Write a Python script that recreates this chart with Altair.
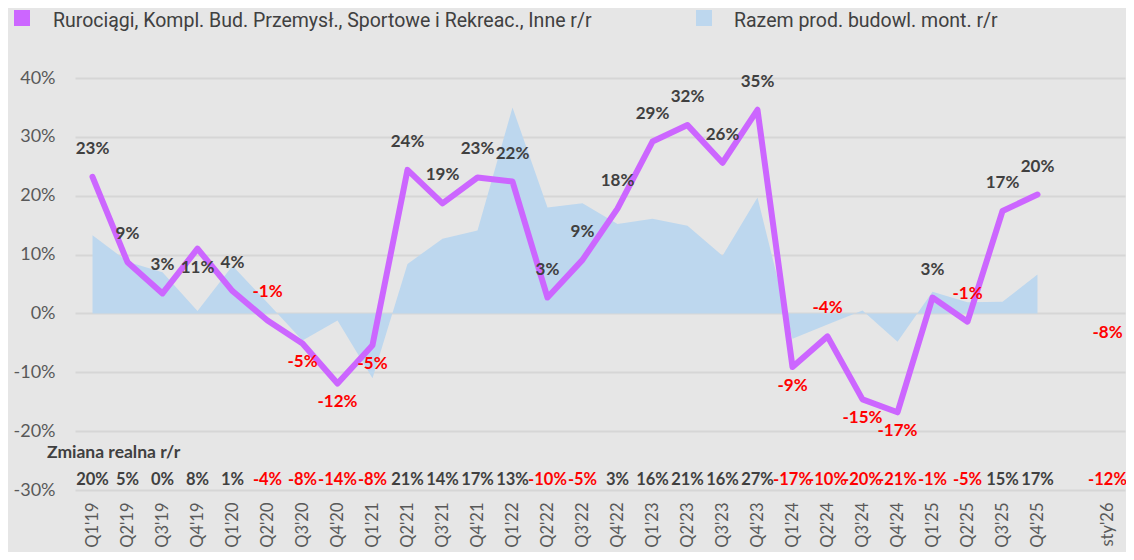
import altair as alt
import pandas as pd

categories = ["Q1'19", "Q2'19", "Q3'19", "Q4'19", "Q1'20", "Q2'20", "Q3'20", "Q4'20",
              "Q1'21", "Q2'21", "Q3'21", "Q4'21", "Q1'22", "Q2'22", "Q3'22", "Q4'22",
              "Q1'23", "Q2'23", "Q3'23", "Q4'23", "Q1'24", "Q2'24", "Q3'24", "Q4'24",
              "Q1'25", "Q2'25", "Q3'25", "Q4'25", " ", "sty'26"]

# Rurociągi ... r/r (line), percent
line_vals = [23.2, 8.7, 3.4, 11.0, 3.8, -1.2, -5.1, -11.9,
             -5.4, 24.4, 18.7, 23.1, 22.4, 2.7, 9.1, 17.8,
             29.2, 32.0, 25.6, 34.6, -9.1, -3.9, -14.6, -16.8,
             2.7, -1.4, 17.4, 20.2, None, -8.0]

# Razem prod. budowl. mont. r/r (area), percent
area_vals = [13.3, 8.8, 7.0, 0.4, 8.1, 1.8, -4.6, -1.2,
             -11.0, 8.4, 12.7, 14.1, 35.0, 18.0, 18.7, 15.2,
             16.1, 14.9, 9.8, 19.7, -4.3, -1.9, 0.5, -4.8,
             3.7, 1.9, 2.0, 6.6, None, None]

# Zmiana realna r/r (bottom row), percent
real_vals = [20, 5, 0, 8, 1, -4, -8, -14,
             -8, 21, 14, 17, 13, -10, -5, 3,
             16, 21, 16, 27, -17, -10, -20, -21,
             -1, -5, 15, 17, None, -12]

# data label placement (above / below the point)
label_side = ["above", "above", "above", "below", "above", "above", "below", "below",
              "below", "above", "above", "above", "above", "above", "above", "above",
              "above", "above", "above", "above", "below", "above", "below", "below",
              "above", "above", "above", "above", "above", "above"]

legend_names = ["Rurociągi, Kompl. Bud. Przemysł., Sportowe i Rekreac., Inne r/r",
                "Razem prod. budowl. mont. r/r"]
bottom_title = "Zmiana realna r/r"
y_ticks = [-30, -20, -10, 0, 10, 20, 30, 40]

PURPLE = "#CC66FF"
BLUE = "#BDD7EE"
DARK = "#404040"
RED = "#FF0000"
GRAY = "#595959"
FONT = "Lato"
LEG_FONT = "Roboto"

df = pd.DataFrame({
    "idx": list(range(len(categories))),
    "cat": categories,
    "line": line_vals,
    "area": area_vals,
    "real": real_vals,
    "side": label_side,
})

xenc = alt.X("cat:N", sort=categories,
             scale=alt.Scale(domain=categories),
             axis=alt.Axis(title=None, labelAngle=270, labelFontSize=16.5, labelColor=GRAY,
                           labelFont=FONT, labelPadding=12, ticks=False, domain=False,
                           grid=False, labelOverlap=False))
yscale = alt.Scale(domain=[-30, 40], nice=False, zero=False)
yaxis = alt.Axis(title=None, values=y_ticks, labelExpr="datum.value + '%'",
                 labelFontSize=18, labelColor=GRAY, labelFont=FONT, labelPadding=20,
                 ticks=False, domain=False, grid=True, gridColor="#D6D6D6", gridWidth=2)

base = alt.Chart(df).encode(x=xenc)

area = base.transform_filter("isValid(datum.area)").mark_area(color=BLUE, opacity=1).encode(
    y=alt.Y("area:Q", scale=yscale, axis=yaxis),
    y2=alt.datum(0),
)

line = base.transform_filter("isValid(datum.line) && datum.idx < 28").mark_line(
    color=PURPLE, strokeWidth=6, strokeJoin="round", strokeCap="round").encode(
    y=alt.Y("line:Q", scale=yscale, axis=yaxis),
)

label_color = alt.condition("datum.line < 0", alt.value(RED), alt.value(DARK))

labels_above = base.transform_filter("isValid(datum.line) && datum.side == 'above'").transform_calculate(
    lab="round(datum.line) + '%'").mark_text(
    dy=-28, fontSize=17, fontWeight="bold", font=FONT).encode(
    y=alt.Y("line:Q", scale=yscale, axis=yaxis),
    text="lab:N",
    color=label_color,
)

labels_below = base.transform_filter("isValid(datum.line) && datum.side == 'below'").transform_calculate(
    lab="round(datum.line) + '%'").mark_text(
    dy=19, fontSize=17, fontWeight="bold", font=FONT).encode(
    y=alt.Y("line:Q", scale=yscale, axis=yaxis),
    text="lab:N",
    color=label_color,
)

bottom_row = base.transform_filter("isValid(datum.real)").transform_calculate(
    lab="datum.real + '%'").mark_text(
    fontSize=16.5, fontWeight="bold", font=FONT).encode(
    y=alt.value(402),
    text="lab:N",
    color=alt.condition("datum.real < 0", alt.value(RED), alt.value(DARK)),
)

one = pd.DataFrame({"t": [bottom_title]})
bottom_title_mark = alt.Chart(one).mark_text(
    align="left", baseline="middle", fontSize=17.5, fontWeight="bold", font=FONT, color=DARK).encode(
    x=alt.value(-28), y=alt.value(375), text="t:N")

leg1 = pd.DataFrame({"t": [legend_names[0]]})
leg2 = pd.DataFrame({"t": [legend_names[1]]})
leg_sq1 = alt.Chart(leg1).mark_rect(color=PURPLE).encode(
    x=alt.value(-61), x2=alt.value(-45), y=alt.value(-68), y2=alt.value(-52))
leg_tx1 = alt.Chart(leg1).mark_text(align="left", baseline="alphabetic", fontSize=19.5,
                                    font=LEG_FONT, color=DARK).encode(
    x=alt.value(-22), y=alt.value(-51), text="t:N")
leg_sq2 = alt.Chart(leg2).mark_rect(color=BLUE).encode(
    x=alt.value(621), x2=alt.value(637), y=alt.value(-68), y2=alt.value(-52))
leg_tx2 = alt.Chart(leg2).mark_text(align="left", baseline="alphabetic", fontSize=19.5,
                                    font=LEG_FONT, color=DARK).encode(
    x=alt.value(659), y=alt.value(-51), text="t:N")

chart = alt.layer(
    area, line, labels_above, labels_below, bottom_row, bottom_title_mark,
    leg_sq1, leg_tx1, leg_sq2, leg_tx2
).properties(
    width=1050, height=412,
    autosize=alt.AutoSizeParams(type="none"),
    padding={"left": 67, "top": 70, "right": 1, "bottom": 62},
    background="#E6E6E6",
).configure_view(stroke=None)

chart.save("out.html", embed_options={"renderer": "svg", "actions": False})
